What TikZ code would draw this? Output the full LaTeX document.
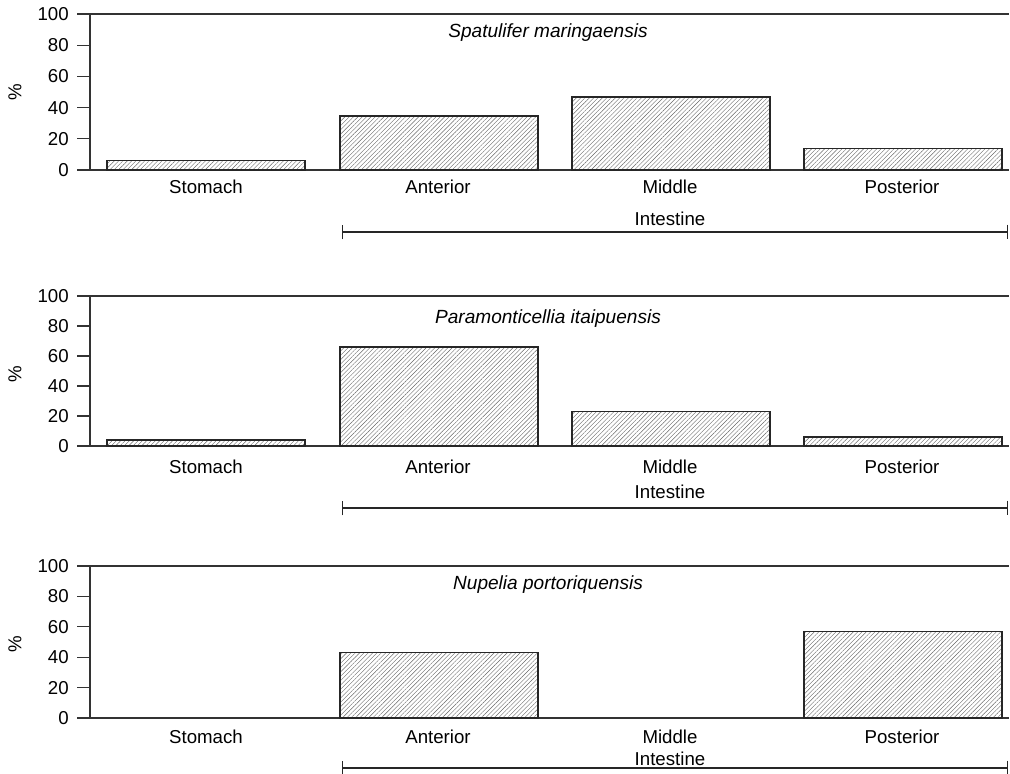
\documentclass[tikz,border=0pt]{standalone}
\usepackage{fontspec}
\setmainfont{Liberation Sans}
\usetikzlibrary{patterns.meta,arrows.meta}
\begin{document}
\begin{tikzpicture}[x=0.75pt, y=-0.75pt,
    axisline/.style={draw=black!80, line width=0.8pt},
    histbar/.style={draw=black!85, line width=0.8pt,
      pattern={Lines[angle=45,distance=2.3pt,line width=0.3pt]}, pattern color=black!60},
    ticklabel/.style={anchor=east, inner sep=0pt, font=\fontsize{14}{16}\selectfont},
    catlabel/.style={inner sep=0pt, font=\fontsize{14}{16}\selectfont},
    spname/.style={inner sep=0pt, font=\fontsize{14.3}{16}\selectfont\itshape},
    brace/.style={draw=black!85, line width=0.8pt, {Bar[width=11pt]}-{Bar[width=11pt]}}
    ]
    \useasboundingbox (0,0) rectangle (1010,774);
    % one panel per species: id/top/base/values/title y/label y/intestine y/bracket y/name
    \foreach \p/\tp/\bs/\va/\vb/\vc/\vd/\ty/\ly/\iy/\by/\nm in {
        1/14/170/6/34.6/46.8/14/33/187/219/232/Spatulifer maringaensis,
        2/296/446/4/66/23.3/6/319/467/492/508/Paramonticellia itaipuensis,
        3/566/718/0/42.8/0/57.2/585/737/759/768/Nupelia portoriquensis}
    {
      \pgfmathsetmacro\u{(\bs-\tp)/100}
      % frame and axis
      \draw[axisline] (77,\tp) -- (1009,\tp);
      \draw[axisline] (90,\tp) -- (90,\bs);
      \draw[axisline] (77,\bs) -- (1009,\bs);
      \foreach \t in {0,20,...,100}{
        \draw[axisline] (77,\bs-\u*\t) -- (90,\bs-\u*\t);
        \node[ticklabel] (tick\p-\t) at (69,\bs-\u*\t) {\t};
      }
      \node[rotate=90, catlabel] (pct\p) at (15,\tp+78) {\%};
      \node[spname] (title\p) at (548,\ty) {\nm};
      % bars
      \foreach \xl/\v in {107/\va, 340/\vb, 572/\vc, 804/\vd}{
        \ifdim \v pt>0pt \draw[histbar] (\xl,\bs) rectangle (\xl+198,\bs-\u*\v); \fi
      }
      % categories
      \foreach \c/\n [count=\i] in {206/Stomach, 438/Anterior, 670/Middle, 902/Posterior}
        \node[catlabel] (cat\p-\i) at (\c,\ly) {\n};
      \node[catlabel] (int\p) at (670,\iy) {Intestine};
      \coordinate (brL\p) at (342,\by);
      \coordinate (brR\p) at (1008,\by);
      \draw[brace] (brL\p) -- (brR\p);
    }
\end{tikzpicture}
\end{document}
